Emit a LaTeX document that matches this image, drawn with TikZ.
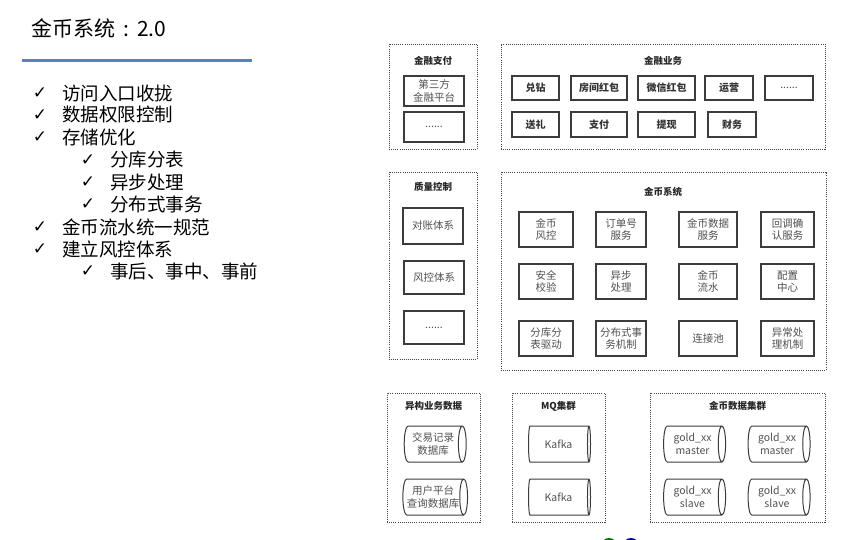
\documentclass[tikz,border=0pt]{standalone}
\usepackage{fontspec}
\setmainfont{Noto Sans CJK SC}
\newfontfamily\symfont{DejaVu Sans}
\usetikzlibrary{shapes.geometric}
\definecolor{ruleblue}{RGB}{84,130,190}
\definecolor{boxline}{RGB}{60,60,60}
\definecolor{boxtext}{RGB}{80,80,80}
\definecolor{dotline}{RGB}{70,70,70}
\tikzset{
  group/.style={draw=dotline, line width=0.9pt, dash pattern=on 0.9pt off 1.2pt, inner sep=0pt},
  grouptitle/.style={font=\fontsize{9.5}{11}\selectfont\bfseries, text=black!85, inner sep=0pt},
  item/.style={draw=boxline, line width=1.2pt, align=center, inner sep=0pt, text=boxtext, font=\fontsize{10.5}{12.5}\selectfont},
  bizitem/.style={item, font=\fontsize{10}{12}\selectfont\bfseries, text=black!80},
  store/.style={cylinder, draw=boxline, line width=1pt, aspect=0.35, minimum width=36, minimum height=62, inner sep=0pt, align=center, text=boxtext, font=\fontsize{10.5}{12.5}\selectfont},
  tick/.style={font=\symfont\fontsize{17}{19}\selectfont, inner sep=0pt},
  point/.style={anchor=west, inner sep=0pt, font=\fontsize{18.5}{22}\selectfont}
}
\begin{document}
\begin{tikzpicture}[x=1pt, y=-1pt]
\useasboundingbox (0,0) rectangle (854,540);
% title and rule
\node[anchor=west, inner sep=0pt, font=\fontsize{21}{24}\selectfont] (title) at (31,28) {金币系统\hspace{8pt}:\hspace{8pt}2.0};
\coordinate (ruleL) at (22,61);
\coordinate (ruleR) at (252,61);
\draw[ruleblue, line width=3pt] (ruleL) -- (ruleR);
% checklist
\node[tick] (k1) at (40,93) {✓};   \node[point] (p1) at (62,93) {访问入口收拢};
\node[tick] (k2) at (40,115) {✓};  \node[point] (p2) at (62,115) {数据权限控制};
\node[tick] (k3) at (40,137) {✓};  \node[point] (p3) at (62,137) {存储优化};
\node[tick] (k4) at (88,160) {✓};  \node[point] (p4) at (110,160) {分库分表};
\node[tick] (k5) at (88,182) {✓};  \node[point] (p5) at (110,182) {异步处理};
\node[tick] (k6) at (88,204) {✓};  \node[point] (p6) at (110,204) {分布式事务};
\node[tick] (k7) at (40,227) {✓};  \node[point] (p7) at (62,227) {金币流水统一规范};
\node[tick] (k8) at (40,249) {✓};  \node[point] (p8) at (62,249) {建立风控体系};
\node[tick] (k9) at (88,271) {✓};  \node[point] (p9) at (110,271) {事后、事中、事前};
% 金融支付
\node[group, minimum width=88, minimum height=105] (pay) at (433,96.5) {};
\node[grouptitle] (payT) at (433,61) {金融支付};
\node[item, minimum width=60, minimum height=30] (pay1) at (434,91) {第三方\\金融平台};
\node[item, minimum width=60, minimum height=30] (pay2) at (434,127) {......};
% 金融业务
\node[group, minimum width=324, minimum height=105] (biz) at (663,96.5) {};
\node[grouptitle] (bizT) at (663,61) {金融业务};
\node[bizitem, minimum width=47, minimum height=24] (b1) at (535.5,88) {兑钻};
\node[bizitem, minimum width=56, minimum height=24] (b2) at (599,88) {房间红包};
\node[bizitem, minimum width=57, minimum height=24] (b3) at (666.5,88) {微信红包};
\node[bizitem, minimum width=48, minimum height=24] (b4) at (729,88) {运营};
\node[item, minimum width=48, minimum height=24] (b5) at (789,88) {......};
\node[bizitem, minimum width=47, minimum height=25] (b6) at (535.5,124.5) {送礼};
\node[bizitem, minimum width=56, minimum height=25] (b7) at (599,124.5) {支付};
\node[bizitem, minimum width=57, minimum height=25] (b8) at (666.5,124.5) {提现};
\node[bizitem, minimum width=48, minimum height=25] (b9) at (732,124.5) {财务};
% 质量控制
\node[group, minimum width=88, minimum height=187] (qa) at (433,265.5) {};
\node[grouptitle] (qaT) at (433,187) {质量控制};
\node[item, minimum width=60, minimum height=36] (qa1) at (433,226) {对账体系};
\node[item, minimum width=60, minimum height=33] (qa2) at (434,277.5) {风控体系};
\node[item, minimum width=60, minimum height=33] (qa3) at (434,327.5) {......};
% 金币系统
\node[group, minimum width=325, minimum height=198] (core) at (663.5,271) {};
\node[grouptitle] (coreT) at (663,192) {金币系统};
\node[item, minimum width=54, minimum height=35] (s11) at (546,229.5) {金币\\风控};
\node[item, minimum width=50, minimum height=35] (s12) at (621,229.5) {订单号\\服务};
\node[item, minimum width=58, minimum height=35] (s13) at (708,229.5) {金币数据\\服务};
\node[item, minimum width=53, minimum height=35] (s14) at (787.5,229.5) {回调确\\认服务};
\node[item, minimum width=54, minimum height=35] (s21) at (546,281.5) {安全\\校验};
\node[item, minimum width=50, minimum height=35] (s22) at (621,281.5) {异步\\处理};
\node[item, minimum width=58, minimum height=35] (s23) at (708,281.5) {金币\\流水};
\node[item, minimum width=53, minimum height=35] (s24) at (787.5,281.5) {配置\\中心};
\node[item, minimum width=54, minimum height=35] (s31) at (546,338.5) {分库分\\表驱动};
\node[item, minimum width=50, minimum height=35] (s32) at (621,338.5) {分布式事\\务机制};
\node[item, minimum width=58, minimum height=35] (s33) at (708,338.5) {连接池};
\node[item, minimum width=53, minimum height=35] (s34) at (787.5,338.5) {异常处\\理机制};
% 异构业务数据
\node[group, minimum width=93, minimum height=129] (ext) at (433.5,457.5) {};
\node[grouptitle] (extT) at (433.5,406) {异构业务数据};
\node[store] (ext1) at (433,444) {交易记录\\数据库};
\node[store] (ext2) at (433,497) {用户平台\\查询数据库};
% MQ集群
\node[group, minimum width=93, minimum height=129] (mq) at (558.5,457.5) {};
\node[grouptitle] (mqT) at (558.5,406) {MQ集群};
\node[store] (mq1) at (558.5,444) {Kafka};
\node[store] (mq2) at (558.5,497) {Kafka};
% 金币数据集群
\node[group, minimum width=175, minimum height=129] (db) at (737.5,457.5) {};
\node[grouptitle] (dbT) at (737.5,406) {金币数据集群};
\node[store] (db1) at (692.5,444) {gold\_xx\\master};
\node[store] (db2) at (777,444) {gold\_xx\\master};
\node[store] (db3) at (692.5,497) {gold\_xx\\slave};
\node[store] (db4) at (777,497) {gold\_xx\\slave};
% logo edge
\begin{scope}
\clip (0,0) rectangle (854,540);
\fill[green!45!black] (609,546) circle (8pt);
\fill[blue!60!black] (631,546) circle (8pt);
\end{scope}
\end{tikzpicture}
\end{document}
